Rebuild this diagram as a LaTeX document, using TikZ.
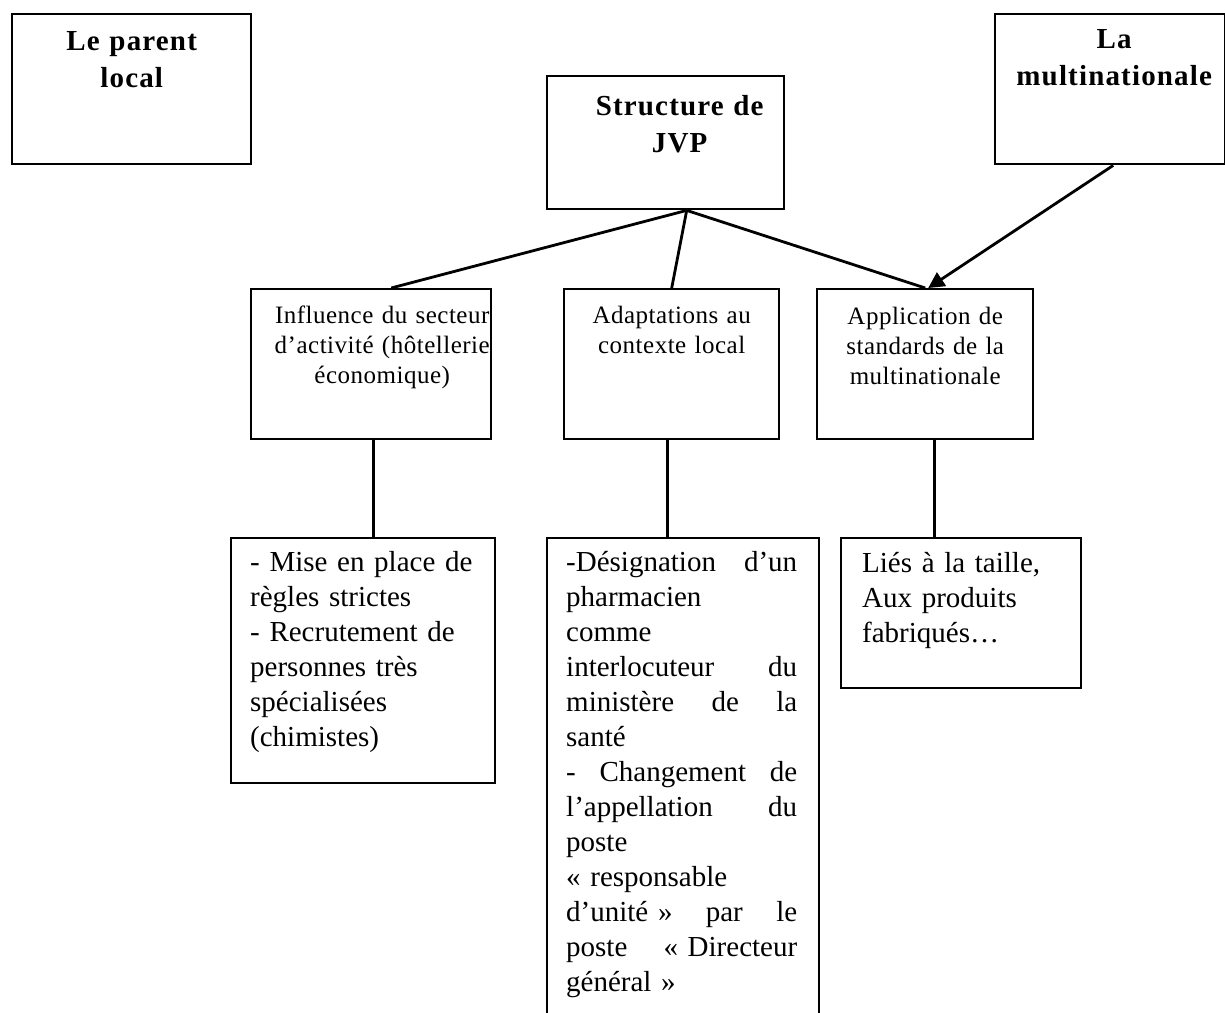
\documentclass[tikz,border=0pt]{standalone}
\usepackage{fontspec}
\setmainfont{Liberation Serif}
\newfontfamily\headfont[LetterSpace=4]{Liberation Serif}
\newfontfamily\midfont[LetterSpace=2]{Liberation Serif}
\usetikzlibrary{arrows.meta}

\tikzset{
  frame/.style={draw, line width=2.4pt, anchor=north west, inner sep=0pt},
  headtext/.style={font=\headfont\bfseries\fontsize{29}{37}\selectfont, align=center, anchor=base, inner sep=0pt, text width=220pt},
  midtext/.style={font=\midfont\fontsize{25}{30}\selectfont, align=center, anchor=base, inner sep=0pt, text width=230pt},
  listtext/.style={font=\fontsize{29}{35}\selectfont, align=left, anchor=base west, inner sep=0pt},
  link/.style={line width=2.8pt},
}

\begin{document}
\begin{tikzpicture}[x=1pt, y=-1pt]
  \useasboundingbox (0,0) rectangle (1225,1012);
  \fill[white] (0,0) rectangle (1225,1012);

  \node[frame, minimum width=239pt, minimum height=150pt] (parent) at (11,13) {};
  \node[frame, minimum width=237pt, minimum height=133pt] (jvp) at (546,75) {};
  \node[frame, minimum width=230pt, minimum height=150pt] (multi) at (994,13) {};
  \node[frame, minimum width=240pt, minimum height=150pt] (infl) at (250,288) {};
  \node[frame, minimum width=215pt, minimum height=150pt] (adapt) at (563,288) {};
  \node[frame, minimum width=216pt, minimum height=150pt] (appl) at (816,288) {};
  \node[frame, minimum width=264pt, minimum height=245pt] (regles) at (230,537) {};
  \node[frame, minimum width=272pt, minimum height=500pt] (poste) at (546,537) {};
  \node[frame, minimum width=240pt, minimum height=150pt] (taille) at (840,537) {};

  \node[headtext] (parent-t) at ([yshift=-37pt]parent.north) {Le parent\\local};
  \node[headtext] (jvp-t) at ([xshift=14pt, yshift=-40pt]jvp.north) {Structure de\\JVP};
  \node[headtext] (multi-t) at ([xshift=4pt, yshift=-35pt]multi.north) {La\\multinationale};
  \node[midtext] (infl-t) at ([xshift=11pt, yshift=-35pt]infl.north) {Influence du secteur\\d’activité (hôtellerie\\économique)};
  \node[midtext] (adapt-t) at ([yshift=-35pt]adapt.north) {Adaptations au\\contexte local};
  \node[midtext] (appl-t) at ([yshift=-36pt]appl.north) {Application de\\standards de la\\multinationale};
  \node[listtext, text width=234pt] (regles-t) at ([xshift=20pt, yshift=-34pt]regles.north west)
    {- Mise en place de\\règles strictes\\- Recrutement de\\personnes très\\spécialisées\\(chimistes)};
  \node[listtext, text width=231pt] (poste-t) at ([xshift=20pt, yshift=-34pt]poste.north west)
    {-Désignation\hfill d’un\\pharmacien\\comme\\interlocuteur\hfill du\\ministère\hfill de\hfill la\\santé\\-\hfill Changement\hfill de\\l’appellation\hfill du\\poste\\« responsable\\d’unité »\hfill par\hfill le\\poste\hfill « Directeur\\général »};
  \node[listtext, text width=210pt] (taille-t) at ([xshift=22pt, yshift=-35pt]taille.north west)
    {Liés à la taille,\\Aux produits\\fabriqués…};

  \coordinate (hub) at ([xshift=21pt]jvp.south);
  \draw[link] (hub) -- ([xshift=20pt]infl.north);
  \draw[link] (hub) -- (adapt.north);
  \draw[link] (hub) -- (appl.north);
  \draw[link, -{Triangle[length=16pt, width=16pt]}] ([xshift=3pt]multi.south) -- ([xshift=3pt]appl.north);
  \draw[link] ([xshift=2pt]infl.south) -- ([xshift=2pt]infl.south |- regles.north);
  \draw[link] ([xshift=-4pt]adapt.south) -- ([xshift=-4pt]adapt.south |- poste.north);
  \draw[link] ([xshift=9pt]appl.south) -- ([xshift=9pt]appl.south |- taille.north);
\end{tikzpicture}
\end{document}
